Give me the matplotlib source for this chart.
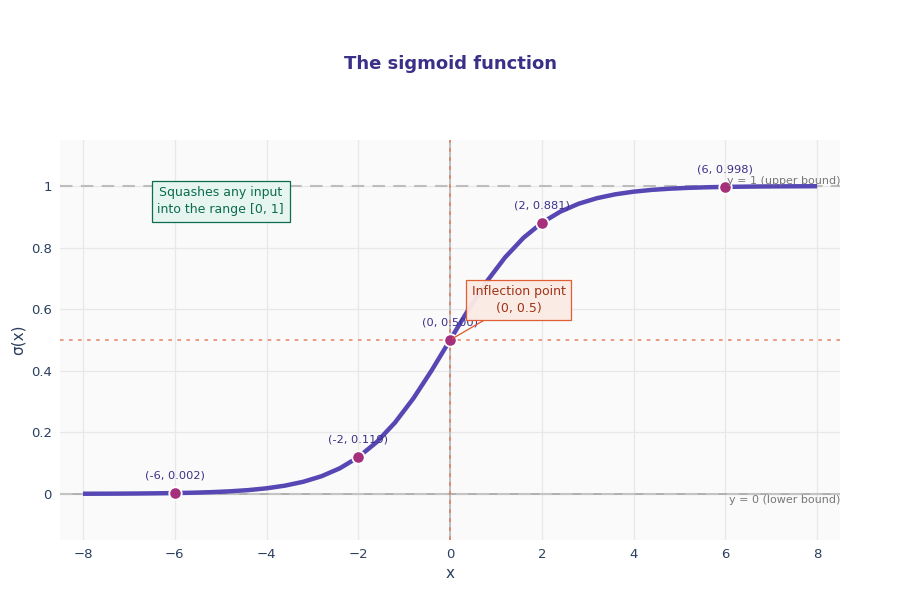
import matplotlib.pyplot as plt

x_vals = [-8.0, -7.6, -7.2, -6.8, -6.4, -6.0, -5.6, -5.2, -4.8, -4.4, -4.0,
          -3.6, -3.2, -2.8, -2.4, -2.0, -1.6, -1.2, -0.8, -0.4, 0.0,
          0.4, 0.8, 1.2, 1.6, 2.0, 2.4, 2.8, 3.2, 3.6, 4.0,
          4.4, 4.8, 5.2, 5.6, 6.0, 6.4, 6.8, 7.2, 7.6, 8.0]
y_vals = [0.0003, 0.0005, 0.0007, 0.0011, 0.0017, 0.0025, 0.0037, 0.0055, 0.0082, 0.0121, 0.0180,
          0.0266, 0.0392, 0.0573, 0.0832, 0.1192, 0.1680, 0.2315, 0.3100, 0.4013, 0.5000,
          0.5987, 0.6900, 0.7685, 0.8320, 0.8808, 0.9168, 0.9427, 0.9608, 0.9734, 0.9820,
          0.9879, 0.9918, 0.9945, 0.9963, 0.9975, 0.9983, 0.9989, 0.9993, 0.9995, 0.9997]

# highlighted points
pt_x = [-6, -2, 0, 2, 6]
pt_y = [0.002, 0.119, 0.500, 0.881, 0.998]

plt.rcParams['font.family'] = ['DejaVu Sans']

fig = plt.figure(figsize=(9, 6), dpi=100)
ax = fig.add_axes([0.0667, 0.1, 0.8667, 0.6667])
ax.set_facecolor('#fafafa')

ax.set_xlim(-8.5, 8.5)
ax.set_ylim(-0.15, 1.15)
ax.set_xticks([-8, -6, -4, -2, 0, 2, 4, 6, 8])
ax.set_xticklabels(['\u22128', '\u22126', '\u22124', '\u22122', '0', '2', '4', '6', '8'])
ax.set_yticks([0, 0.2, 0.4, 0.6, 0.8, 1])
ax.set_yticklabels(['0', '0.2', '0.4', '0.6', '0.8', '1'])
ax.grid(color='#e8e8e8', linewidth=0.9)
ax.set_axisbelow(True)
for s in ax.spines.values():
    s.set_visible(False)
ax.tick_params(length=0, labelsize=9.5, labelcolor='#2a3f5f', pad=6)

# zero lines and reference lines
ax.axhline(0, color='#aaaaaa', linewidth=1.3, zorder=1)
ax.axvline(0, color='#bbbbbb', linewidth=1.3, zorder=1)
ax.axhline(1, color='#bdbdbd', linewidth=1.5, linestyle=(0, (6, 4)), zorder=1.5)
ax.axhline(0, color='#c4c4c4', linewidth=1.5, linestyle=(0, (6, 4)), zorder=1.5)
ax.axhline(0.5, color='#e8937a', linewidth=1.3, linestyle=(0, (2, 3)), zorder=1.5)
ax.axvline(0, color='#d9866e', linewidth=1.3, linestyle=(0, (2, 3)), zorder=1.5)

ax.plot(x_vals, y_vals, color='#5647b4', linewidth=3.2, zorder=3, solid_capstyle='butt')
ax.scatter(pt_x, pt_y, s=80, color='#a62f7c', edgecolor='white', linewidth=1.3, zorder=4)
for px, py in zip(pt_x, pt_y):
    ax.annotate('({}, {:.3f})'.format(px, py), (px, py), xytext=(0, 9),
                textcoords='offset points', ha='center', va='bottom',
                fontsize=8.2, color='#3b3088', zorder=5)

ax.text(8.5, 1.0, 'y = 1 (upper bound)', ha='right', va='bottom', fontsize=8,
        color='#777777', zorder=5)
ax.text(8.5, -0.005, 'y = 0 (lower bound)', ha='right', va='top', fontsize=8,
        color='#777777', zorder=5)

ax.text(-5, 0.951, 'Squashes any input\ninto the range [0, 1]', ha='center', va='center',
        fontsize=9, color='#0c6b50', linespacing=1.35, zorder=6,
        bbox=dict(boxstyle='square,pad=0.45', facecolor='#e6f5ef', edgecolor='#0c6b50',
                  linewidth=0.9))

ax.annotate('Inflection point\n(0, 0.5)', xy=(0, 0.5), xytext=(1.5, 0.63),
            ha='center', va='center', fontsize=9, color='#9f3317', linespacing=1.35,
            zorder=6,
            bbox=dict(boxstyle='square,pad=0.45', facecolor='#fcebe4', edgecolor='#e0552a',
                      linewidth=0.9, alpha=0.95),
            arrowprops=dict(arrowstyle='-', color='#e0552a', linewidth=0.9,
                            shrinkA=0, shrinkB=2))

ax.set_xlabel('x', fontsize=11, color='#2a3f5f', labelpad=3)
ax.set_ylabel('\u03c3(x)', fontsize=11, color='#2a3f5f', labelpad=4)

fig.text(0.5, 0.893, 'The sigmoid function', ha='center', va='center', fontsize=13,
         fontweight='bold', color='#3b3088')

fig.savefig('out.png', dpi=100)
